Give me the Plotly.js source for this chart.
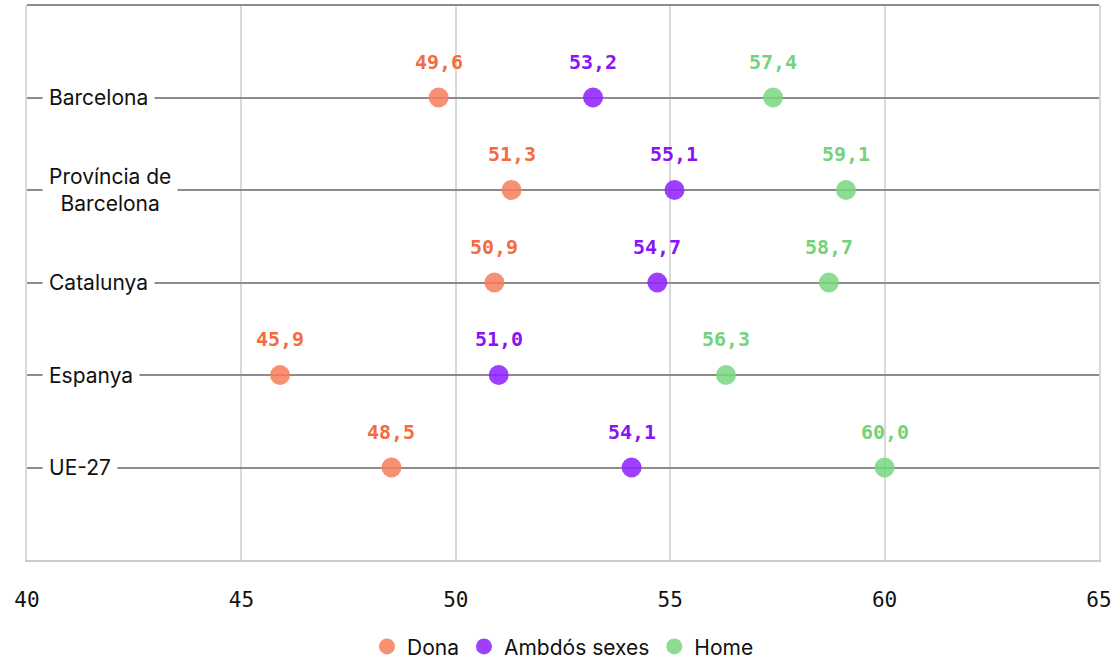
<!DOCTYPE html>
<html><head><meta charset="utf-8">
<script src="https://cdn.plot.ly/plotly-3.0.1.min.js"></script>
<style>html,body{margin:0;padding:0;background:#fff}#chart{width:1117px;height:660px}</style>
</head><body><div id="chart"></div>
<script>
const categories = ['Barcelona', 'Província de<br>Barcelona', 'Catalunya', 'Espanya', 'UE-27'];
const dona = [49.6, 51.3, 50.9, 45.9, 48.5];
const ambdos = [53.2, 55.1, 54.7, 51.0, 54.1];
const home = [57.4, 59.1, 58.7, 56.3, 60.0];
const xTicks = [40, 45, 50, 55, 60, 65];
const seriesNames = ['Dona', 'Ambdós sexes', 'Home'];

const markerColors = ['rgba(247,125,90,0.85)', 'rgba(145,35,255,0.88)', 'rgba(120,214,128,0.85)'];
const textColors = ['#F46B3F', '#8A12F5', '#72D37A'];
const seriesData = [dona, ambdos, home];
const idx = categories.map((c, i) => i);

const traces = seriesData.map((vals, s) => ({
  type: 'scatter', mode: 'markers', name: seriesNames[s],
  x: vals, y: idx,
  marker: {size: 20, color: markerColors[s]},
  cliponaxis: false, hoverinfo: 'x+name'
}));

const fmt = v => v.toFixed(1).replace('.', ',');
const annotations = [];
seriesData.forEach((vals, s) => {
  vals.forEach((v, i) => {
    annotations.push({x: v, y: i, xref: 'x', yref: 'y', text: '<b>' + fmt(v) + '</b>',
      showarrow: false, yshift: 36,
      font: {family: 'DejaVu Sans Mono', size: 20, color: textColors[s]}});
  });
});
categories.forEach((c, i) => {
  annotations.push({x: 15 / 1072, y: i, xref: 'paper', yref: 'y', text: c,
    showarrow: false, xanchor: 'left', align: 'center', bgcolor: '#ffffff', borderpad: 6,
    font: {family: 'Inter, Noto Sans, sans-serif', size: 21, color: '#111'}});
});

const layout = {
  width: 1117, height: 660,
  margin: {l: 27, r: 18, t: 5, b: 100},
  paper_bgcolor: '#fff', plot_bgcolor: '#fff',
  showlegend: true,
  legend: {orientation: 'h', x: 0.5, xanchor: 'center', yref: 'container', y: 0.02, yanchor: 'middle',
    font: {family: 'Inter, Noto Sans, sans-serif', size: 21, color: '#111'}, itemwidth: 20, tracegroupgap: 0},
  xaxis: {range: [40, 65], tickvals: xTicks, ticktext: xTicks.map(String),
    showgrid: true, gridcolor: '#d9d9d9', gridwidth: 2, zeroline: false,
    showline: true, linecolor: '#cccccc', linewidth: 2, ticks: '', ticklabelstandoff: 20,
    tickfont: {family: 'DejaVu Sans Mono', size: 21, color: '#111'}},
  yaxis: {range: [5, -1], tickvals: [-1, 0, 1, 2, 3, 4], showticklabels: false,
    showgrid: true, gridcolor: '#8c8c8c', gridwidth: 2, zeroline: false,
    showline: true, mirror: true, linecolor: '#d9d9d9', linewidth: 2, fixedrange: true},
  shapes: [{type: 'line', xref: 'paper', yref: 'paper', x0: 0, x1: 1, y0: 1, y1: 1,
    line: {color: '#8c8c8c', width: 2}, layer: 'above'}],
  annotations: annotations
};

Plotly.newPlot('chart', traces, layout, {displayModeBar: false, staticPlot: true});
</script></body></html>
